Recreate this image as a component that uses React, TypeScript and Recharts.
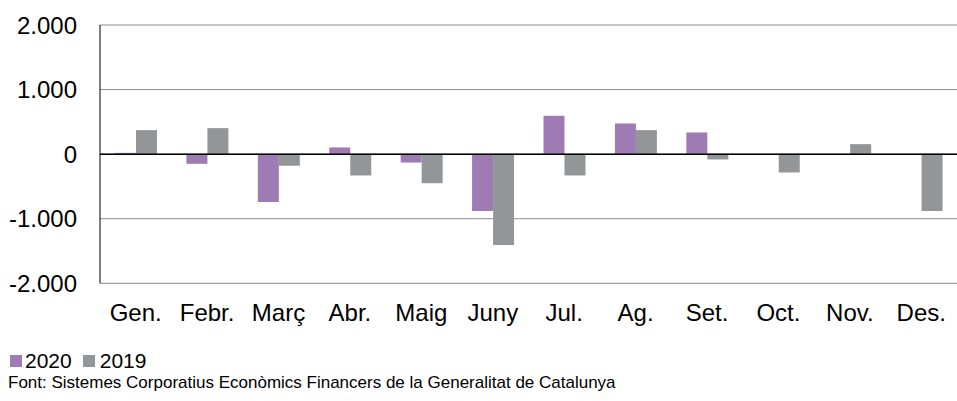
import { BarChart, Bar, XAxis, YAxis, CartesianGrid, ReferenceLine } from "recharts";

const MONTHS = ["Gen.", "Febr.", "Març", "Abr.", "Maig", "Juny", "Jul.", "Ag.", "Set.", "Oct.", "Nov.", "Des."];
const VALUES_2020 = [20, -150, -740, 104, -130, -880, 594, 475, 336, 0, 0, 0];
const VALUES_2019 = [372, 403, -180, -330, -450, -1405, -330, 372, -82, -284, 155, -880];
const Y_TICKS = [-2000, -1000, 0, 1000, 2000];

const COLORS = {
  y2020: "#9E7BB5",
  y2019: "#939698",
};

const FONT = "'Liberation Sans', Arial, sans-serif";

const fmt = (v: number) =>
  v === 0 ? "0" : (v < 0 ? "-" : "") + Math.abs(v).toLocaleString("en-US").replace(/,/g, ".");

export default function App() {
  const data = MONTHS.map((m, i) => ({
    month: m,
    v2020: VALUES_2020[i],
    v2019: VALUES_2019[i],
  }));

  return (
    <div style={{ position: "absolute", left: 0, top: 0, width: 957, height: 401, background: "#fff", fontFamily: FONT }}>
      <BarChart
        width={957}
        height={340}
        data={data}
        margin={{ top: 25, right: 0, bottom: 0, left: 0 }}
        barGap={0}
        barCategoryGap="21%"
      >
        <CartesianGrid vertical={false} stroke="#8c8c8c" strokeWidth={1} />
        <XAxis
          dataKey="month"
          axisLine={false}
          tickLine={false}
          tickSize={0}
          tickMargin={21}
          height={56.7}
          interval={0}
          tick={{ fill: "#000", fontSize: 24, fontFamily: FONT }}
        />
        <YAxis
          domain={[-2000, 2000]}
          ticks={Y_TICKS}
          width={100}
          axisLine={{ stroke: "#000", strokeWidth: 1 }}
          tickLine={false}
          tickSize={0}
          tickMargin={23}
          tickFormatter={fmt}
          tick={{ fill: "#000", fontSize: 24, fontFamily: FONT }}
        />
        <Bar dataKey="v2020" name="2020" fill={COLORS.y2020} isAnimationActive={false} />
        <Bar dataKey="v2019" name="2019" fill={COLORS.y2019} isAnimationActive={false} />
        <ReferenceLine y={0} stroke="#000" strokeWidth={1.5} />
      </BarChart>
      <div style={{ position: "absolute", left: 10, top: 349, display: "flex", alignItems: "center", fontSize: 21, color: "#000" }}>
        <span style={{ width: 12, height: 12, background: COLORS.y2020, display: "inline-block", marginRight: 3 }} />
        <span style={{ marginRight: 11 }}>2020</span>
        <span style={{ width: 12, height: 12, background: COLORS.y2019, display: "inline-block", marginRight: 5 }} />
        <span>2019</span>
      </div>
      <div style={{ position: "absolute", left: 8, top: 373, fontSize: 17, color: "#000" }}>
        Font: Sistemes Corporatius Econòmics Financers de la Generalitat de Catalunya
      </div>
    </div>
  );
}
